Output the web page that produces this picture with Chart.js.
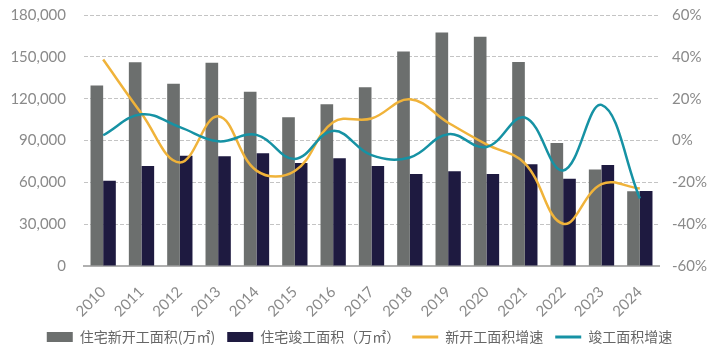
<!DOCTYPE html>
<html>
<head>
<meta charset="utf-8">
<script src="https://cdn.jsdelivr.net/npm/chart.js@4"></script>
<style>
  html, body { margin: 0; padding: 0; background: #fff; }
  #wrap { width: 719px; height: 360px; }
</style>
</head>
<body>
<div id="wrap"><canvas id="chart"></canvas></div>
<script>
'use strict';

// categories
const years = ['2010', '2011', '2012', '2013', '2014', '2015', '2016', '2017',
               '2018', '2019', '2020', '2021', '2022', '2023', '2024'];

// 住宅新开工面积 / 住宅竣工面积 (万㎡)
const newStartArea = [129359, 146035, 130695, 145845, 124877, 106651, 115911, 128098,
                      153753, 167463, 164329, 146379, 88135, 69286, 53660];
const completedArea = [61200, 71700, 79000, 78700, 80900, 73800, 77200, 71800,
                       66000, 68000, 65900, 73000, 62500, 72400, 53700];

// 增速 (%)
const newStartGrowth = [38.7, 12.9, -10.5, 11.6, -14.4, -14.6, 8.7, 10.5,
                        19.7, 8.5, -1.9, -10.9, -39.8, -20.9, -23.0];
const completedGrowth = [2.5, 12.5, 6.4, -0.4, 2.7, -8.8, 4.6, -7.0,
                         -8.1, 3.0, -3.1, 11.0, -14.3, 17.0, -27.7];

const tickFont = { family: 'Lato', size: 15 };
const tickColor = '#8a8a8a';

const ctx = document.getElementById('chart');
new Chart(ctx, {
    type: 'bar',
    data: {
        labels: years,
        datasets: [{
            label: '住宅新开工面积(万㎡)',
            data: newStartArea,
            backgroundColor: '#6c6f6e',
            yAxisID: 'y',
            order: 2
        }, {
            label: '住宅竣工面积（万㎡）',
            data: completedArea,
            backgroundColor: '#1e1a40',
            yAxisID: 'y',
            order: 2
        }, {
            type: 'line',
            label: '新开工面积增速',
            data: newStartGrowth,
            borderColor: '#f0b33a',
            backgroundColor: '#f0b33a',
            borderWidth: 2.5,
            pointRadius: 0,
            tension: 0.4,
            yAxisID: 'y1',
            order: 1
        }, {
            type: 'line',
            label: '竣工面积增速',
            data: completedGrowth,
            borderColor: '#1692a4',
            backgroundColor: '#1692a4',
            borderWidth: 2.5,
            pointRadius: 0,
            tension: 0.4,
            yAxisID: 'y1',
            order: 0
        }]
    },
    options: {
        responsive: true,
        maintainAspectRatio: false,
        animation: false,
        layout: { padding: { top: 15, bottom: 6, left: 0, right: 0 } },
        datasets: {
            bar: { categoryPercentage: 0.66, barPercentage: 1.0 }
        },
        scales: {
            x: {
                grid: { display: false },
                border: { display: true, color: '#b0b0b0', width: 2 },
                ticks: {
                    font: tickFont,
                    color: tickColor,
                    minRotation: 45,
                    maxRotation: 45,
                    padding: 9
                },
                afterFit: s => { s.height = 52; }
            },
            y: {
                position: 'left',
                min: 0,
                max: 180000,
                ticks: {
                    stepSize: 30000,
                    font: tickFont,
                    color: tickColor,
                    padding: 18,
                    callback: v => v.toLocaleString('en-US')
                },
                grid: { color: '#c4c4c4', lineWidth: 1, drawTicks: false },
                border: { display: false, dash: [4, 2] },
                afterFit: s => { s.width = 84; s.paddingTop = 0; s.paddingBottom = 0; }
            },
            y1: {
                position: 'right',
                min: -60,
                max: 60,
                ticks: {
                    stepSize: 20,
                    font: tickFont,
                    color: tickColor,
                    padding: 13,
                    callback: v => v + '%'
                },
                grid: { display: false, drawTicks: false },
                border: { display: false },
                afterFit: s => { s.width = 60; s.paddingTop = 0; s.paddingBottom = 0; }
            }
        },
        plugins: {
            tooltip: { enabled: false },
            legend: {
                position: 'bottom',
                labels: {
                    font: { family: '"Noto Sans CJK SC"', size: 14 },
                    color: '#666',
                    usePointStyle: true,
                    pointStyleWidth: 26,
                    boxHeight: 10,
                    padding: 12,
                    sort: (a, b) => a.datasetIndex - b.datasetIndex,
                    generateLabels: chart => {
                        const items = Chart.defaults.plugins.legend.labels.generateLabels(chart);
                        return items.map(it => {
                            if (it.datasetIndex < 2) {
                                it.pointStyle = 'rect';
                                it.lineWidth = 0;
                            } else {
                                it.pointStyle = 'line';
                                it.lineWidth = 3;
                            }
                            return it;
                        });
                    }
                }
            }
        }
    }
});
</script>
</body>
</html>
